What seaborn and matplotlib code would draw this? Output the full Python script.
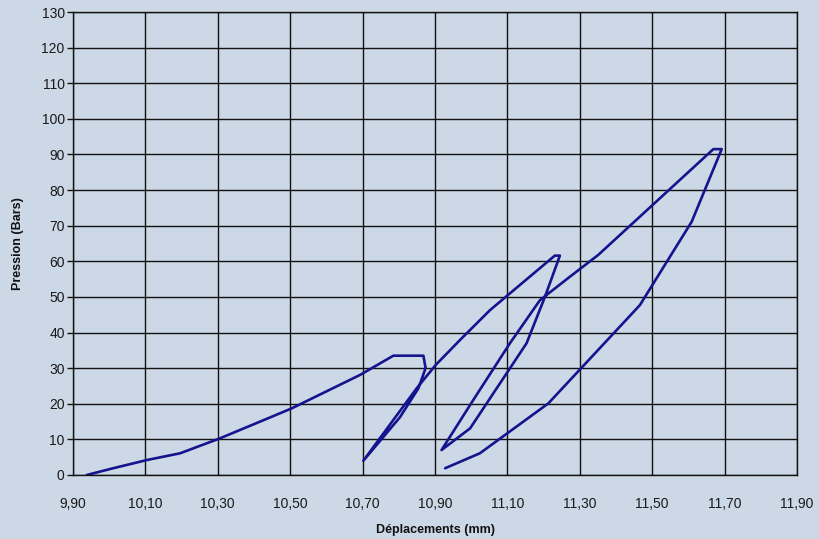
import matplotlib
matplotlib.use("Agg")
import matplotlib.pyplot as plt
import seaborn as sns
import pandas as pd

# Pressure / displacement readings, in the order they were taken (load-unload cycles)
deplacement_mm = [9.938, 10.011, 10.104, 10.196, 10.306, 10.417, 10.504, 10.693,
                  10.785, 10.868, 10.874, 10.854, 10.803, 10.702,
                  10.849, 10.902, 10.969, 11.052, 11.231, 11.245,
                  11.204, 11.153, 10.997, 10.918,
                  11.006, 11.107, 11.190, 11.273, 11.351, 11.669, 11.692,
                  11.609, 11.466, 11.213, 11.024, 10.928]
pression_bars = [0.0, 1.9, 4.2, 6.1, 10.3, 15.0, 18.7, 28.1,
                 33.5, 33.5, 30.0, 24.3, 16.2, 4.0,
                 24.3, 30.9, 37.9, 46.3, 61.6, 61.6,
                 50.1, 37.0, 13.1, 7.0,
                 21.1, 37.0, 49.1, 55.7, 61.8, 91.5, 91.5,
                 71.1, 47.7, 20.1, 6.1, 1.9]

x_ticks = [9.90, 10.10, 10.30, 10.50, 10.70, 10.90, 11.10, 11.30, 11.50, 11.70, 11.90]
x_tick_labels = ["9,90", "10,10", "10,30", "10,50", "10,70", "10,90",
                 "11,10", "11,30", "11,50", "11,70", "11,90"]
y_ticks = list(range(0, 131, 10))

df = pd.DataFrame({"Déplacements": deplacement_mm,
                   "Pression": pression_bars})

bg = "#ccd8e6"
sns.set_theme(style="white")
plt.rcParams["font.family"] = ["Liberation Sans", "DejaVu Sans"]

fig = plt.figure(figsize=(8.19, 5.39), dpi=100, facecolor=bg)
ax = fig.add_axes([73 / 819, 64 / 539, 724 / 819, 463 / 539])
ax.set_facecolor(bg)

sns.lineplot(data=df, x="Déplacements", y="Pression", sort=False,
             estimator=None, color="#14148f", linewidth=1.9, ax=ax)

ax.set_xlim(9.90, 11.90)
ax.set_ylim(0, 130)
ax.set_xticks(x_ticks)
ax.set_xticklabels(x_tick_labels)
ax.set_yticks(y_ticks)

ax.grid(True, color="#111111", linewidth=1.0)
ax.set_axisbelow(True)
for side in ["left", "bottom", "top", "right"]:
    ax.spines[side].set_visible(True)
    ax.spines[side].set_color("#111111")
    ax.spines[side].set_linewidth(1.0)

ax.tick_params(axis="y", which="both", left=True, length=4, width=1.0,
               color="#111111", labelsize=10, labelcolor="#1a1a1a", pad=2)
ax.tick_params(axis="x", which="both", bottom=False, labelsize=10,
               labelcolor="#1a1a1a", pad=10)

ax.set_xlabel("Déplacements (mm)", fontsize=9, fontweight="bold",
              color="#111111")
ax.set_ylabel("Pression (Bars)", fontsize=9, fontweight="bold",
              color="#111111")
ax.xaxis.set_label_coords(0.5, -(530 - 475) / 463, transform=ax.transAxes)
ax.xaxis.label.set_verticalalignment("center")
ax.yaxis.set_label_coords(-(73 - 18) / 724, 0.5, transform=ax.transAxes)
ax.yaxis.label.set_verticalalignment("center")

fig.savefig("out.png", dpi=100, facecolor=bg)
